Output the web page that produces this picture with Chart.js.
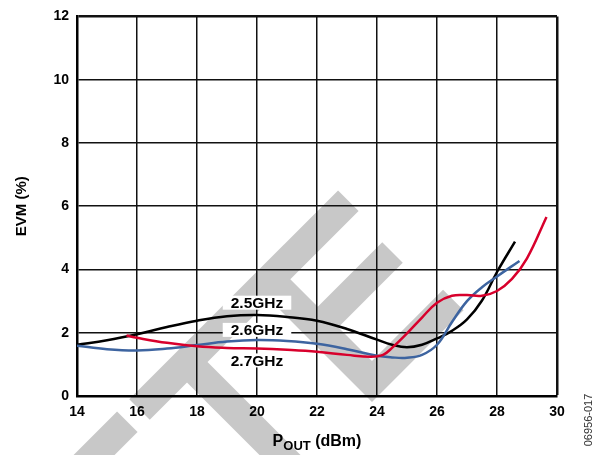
<!DOCTYPE html>
<html>
<head>
<meta charset="utf-8">
<script src="https://cdn.jsdelivr.net/npm/chart.js@4/dist/chart.umd.min.js"></script>
<style>
  html, body { margin: 0; padding: 0; background: #fff; }
  #wrap { width: 597px; height: 455px; position: relative; }
</style>
</head>
<body>
<div id="wrap"><canvas id="c"></canvas></div>
<script>
// Axis ticks
const xTicks = [14, 16, 18, 20, 22, 24, 26, 28, 30];
const yTicks = [0, 2, 4, 6, 8, 10, 12];

// EVM (%) versus output power (dBm), one pair of arrays per carrier frequency
const pout25 = [14, 15, 16, 17, 18, 19, 20, 21, 22, 23, 24, 24.5, 25, 25.5, 26, 26.5, 27, 27.5, 28, 28.6];
const evm25  = [1.62, 1.76, 1.95, 2.18, 2.38, 2.52, 2.56, 2.50, 2.38, 2.12, 1.78, 1.62, 1.54, 1.62, 1.82, 2.06, 2.42, 3.02, 3.92, 4.88];

const pout26 = [14, 15, 16, 17, 18, 19, 20, 21, 22, 23, 24, 24.5, 25, 25.5, 26, 26.5, 27, 27.5, 28, 28.75];
const evm26  = [1.59, 1.48, 1.44, 1.50, 1.61, 1.72, 1.77, 1.74, 1.65, 1.48, 1.27, 1.22, 1.21, 1.30, 1.62, 2.34, 3.00, 3.44, 3.78, 4.27];

const pout27 = [15.65, 16, 17, 18, 19, 20, 21, 22, 23, 23.8, 24.2, 24.5, 25, 25.5, 26, 26.5, 27, 27.5, 28, 28.5, 29, 29.65];
const evm27  = [1.91, 1.84, 1.68, 1.57, 1.52, 1.50, 1.46, 1.40, 1.30, 1.24, 1.30, 1.52, 1.98, 2.48, 2.95, 3.17, 3.19, 3.17, 3.32, 3.70, 4.35, 5.66];

const seriesNames = ['2.5GHz', '2.6GHz', '2.7GHz'];

const FONT = '"Liberation Sans", Arial, Helvetica, sans-serif';
const pts = (xs, ys) => xs.map((x, i) => ({ x: x, y: ys[i] }));

// Light grey logo stamp behind the plot (canvas pixels)
const stampBands = [
  [[348.3, 200.7], [139.5, 409.5]],
  [[127.3, 421.8], [30, 519]],
  [[392.5, 252.5], [317.8, 327.3]],
  [[269.8, 279.3], [372, 381.5], [453.3, 300]],
  [[187, 362], [360, 535]]
];

const stampPlugin = {
  id: 'stamp',
  beforeDraw(chart) {
    const ctx = chart.ctx;
    ctx.save();
    ctx.fillStyle = '#fff';
    ctx.fillRect(0, 0, chart.width, chart.height);
    ctx.strokeStyle = '#c8c8c8';
    ctx.lineWidth = 29;
    ctx.lineCap = 'butt';
    ctx.lineJoin = 'miter';
    stampBands.forEach(b => {
      ctx.beginPath();
      ctx.moveTo(b[0][0], b[0][1]);
      for (let i = 1; i < b.length; i++) ctx.lineTo(b[i][0], b[i][1]);
      ctx.stroke();
    });
    ctx.restore();
  }
};

// Curve labels, placed in data coordinates
const curveLabels = [
  { text: seriesNames[0], x: 20, y: 2.95 },
  { text: seriesNames[1], x: 20, y: 2.09 },
  { text: seriesNames[2], x: 20, y: 1.125 }
];
const LABEL_FONT = 'bold 15.5px ' + FONT;

const labelPlugin = {
  id: 'curveLabels',
  beforeDatasetsDraw(chart) {
    const ctx = chart.ctx, sx = chart.scales.x, sy = chart.scales.y;
    ctx.save();
    ctx.font = LABEL_FONT;
    ctx.fillStyle = '#fff';
    curveLabels.forEach(l => {
      const w = ctx.measureText(l.text).width + 16;
      const cx = sx.getPixelForValue(l.x), cy = sy.getPixelForValue(l.y);
      ctx.fillRect(cx - w / 2, cy - 7, w, 14);
    });
    ctx.restore();
  },
  afterDatasetsDraw(chart) {
    const ctx = chart.ctx, sx = chart.scales.x, sy = chart.scales.y;
    ctx.save();
    ctx.font = LABEL_FONT;
    ctx.fillStyle = '#000';
    ctx.textAlign = 'center';
    ctx.textBaseline = 'middle';
    curveLabels.forEach(l => {
      ctx.fillText(l.text, sx.getPixelForValue(l.x), sy.getPixelForValue(l.y) + 1);
    });
    ctx.restore();
  }
};

// Axis titles and figure number
const titlePlugin = {
  id: 'titles',
  afterDraw(chart) {
    const ctx = chart.ctx, a = chart.chartArea;
    ctx.save();
    ctx.fillStyle = '#000';
    ctx.textBaseline = 'alphabetic';
    ctx.textAlign = 'left';

    // X title: P with subscript OUT
    const big = 'bold 16px ' + FONT, small = 'bold 13px ' + FONT;
    ctx.font = big;
    const wP = ctx.measureText('P').width;
    const wRest = ctx.measureText(' (dBm)').width;
    ctx.font = small;
    const wSub = ctx.measureText('OUT').width;
    let x0 = (a.left + a.right) / 2 - (wP + wSub + wRest) / 2;
    ctx.font = big;
    ctx.fillText('P', x0, 446);
    ctx.font = small;
    ctx.fillText('OUT', x0 + wP, 449.5);
    ctx.font = big;
    ctx.fillText(' (dBm)', x0 + wP + wSub, 446);

    // Y title
    ctx.save();
    ctx.translate(21.5, (a.top + a.bottom) / 2);
    ctx.rotate(-Math.PI / 2);
    ctx.textAlign = 'center';
    ctx.textBaseline = 'middle';
    ctx.font = 'bold 15px ' + FONT;
    ctx.fillText('EVM (%)', 0, 0);
    ctx.restore();

    // Figure number
    ctx.save();
    ctx.translate(589, 420);
    ctx.rotate(-Math.PI / 2);
    ctx.textAlign = 'center';
    ctx.textBaseline = 'middle';
    ctx.font = '11px ' + FONT;
    ctx.fillStyle = '#333';
    ctx.fillText('06956-017', 0, 0);
    ctx.restore();

    ctx.restore();
  }
};

const tickFont = { family: FONT, size: 14, weight: 'bold' };

new Chart(document.getElementById('c'), {
  type: 'line',
  data: {
    datasets: [
      { label: seriesNames[0], data: pts(pout25, evm25), borderColor: '#000000', order: 3 },
      { label: seriesNames[1], data: pts(pout26, evm26), borderColor: '#3d64a0', order: 2 },
      { label: seriesNames[2], data: pts(pout27, evm27), borderColor: '#d8002c', order: 1 }
    ]
  },
  options: {
    responsive: true,
    maintainAspectRatio: false,
    devicePixelRatio: 1,
    animation: false,
    parsing: true,
    layout: { padding: { top: 12, right: 40, left: 0, bottom: 0 } },
    elements: {
      line: { borderWidth: 2.5, tension: 0.4, fill: false, cubicInterpolationMode: 'default' },
      point: { radius: 0, hoverRadius: 0 }
    },
    plugins: {
      legend: { display: false },
      tooltip: { enabled: false },
      title: { display: false }
    },
    scales: {
      x: {
        type: 'linear',
        min: 14, max: 30,
        afterBuildTicks: s => { s.ticks = xTicks.map(v => ({ value: v })); },
        afterFit: s => { s.height = 59; },
        ticks: { color: '#000', font: tickFont, padding: 8, maxRotation: 0, autoSkip: false },
        grid: {
          color: '#111',
          lineWidth: c => (c.tick && c.tick.value === 30) ? 2.5 : 1.5,
          drawTicks: false
        },
        border: { display: true, color: '#000', width: 2.5 }
      },
      y: {
        type: 'linear',
        min: 0, max: 12,
        afterBuildTicks: s => { s.ticks = yTicks.map(v => ({ value: v })); },
        afterFit: s => { s.width = 77; },
        ticks: { color: '#000', font: tickFont, padding: 8 },
        grid: {
          color: '#111',
          lineWidth: c => (c.tick && c.tick.value === 12) ? 2.5 : 1.5,
          drawTicks: false
        },
        border: { display: true, color: '#000', width: 2.5 }
      }
    }
  },
  plugins: [stampPlugin, labelPlugin, titlePlugin]
});
</script>
</body>
</html>
